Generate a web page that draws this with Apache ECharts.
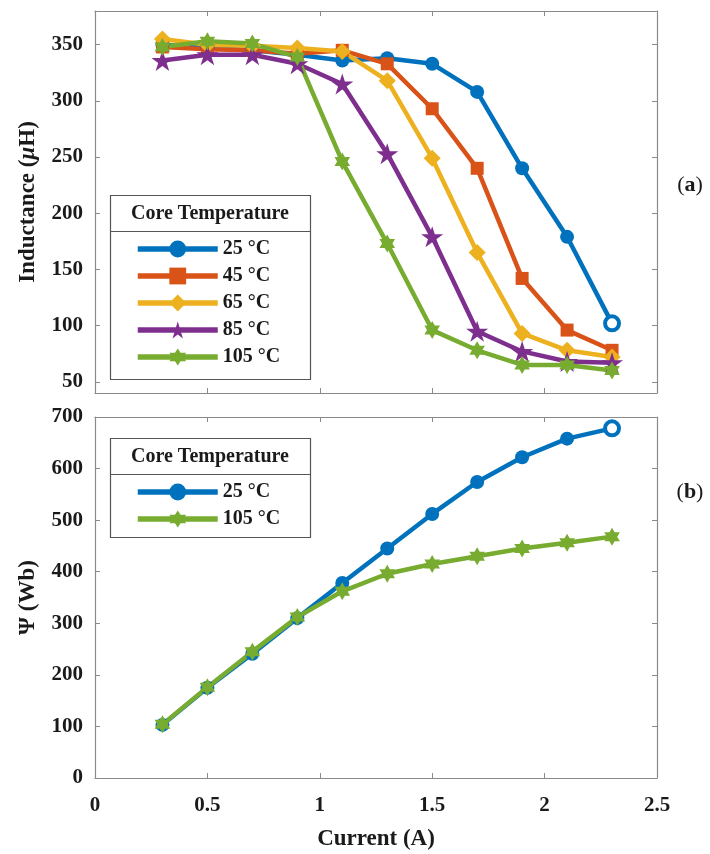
<!DOCTYPE html>
<html>
<head>
<meta charset="utf-8">
<script src="https://cdn.jsdelivr.net/npm/echarts@6/dist/echarts.min.js"></script>
<style>
  html, body { margin: 0; padding: 0; background: #fff; }
  #chart { width: 710px; height: 854px; }
</style>
</head>
<body>
<div id="chart"></div>
<script>
// x values (A)
const currents = [0.3, 0.5, 0.7, 0.9, 1.1, 1.3, 1.5, 1.7, 1.9, 2.1, 2.3]

// (a) inductance, uH
const ind25 = [350, 347, 345, 341, 336, 338, 333, 308, 240, 179, 102]
const ind45 = [348, 346, 345, 342, 345, 333, 293, 240, 142, 96, 78]
const ind65 = [355, 350, 349, 347, 344, 318, 249, 165, 93, 78, 72]
const ind85 = [336, 341, 341, 333, 315, 253, 179, 95, 77, 68, 67]
const ind105 = [348, 353, 351, 339, 246, 173, 96, 78, 65, 65, 60]

// (b) flux linkage, Wb
const psi25 = [103, 175, 241, 310, 378, 445, 512, 574, 622, 658, 678]
const psi105 = [104, 176, 245, 312, 362, 396, 415, 430, 445, 456, 468]

const indTicks = [50, 100, 150, 200, 250, 300, 350]
const tempNamesA = ['25 °C', '45 °C', '65 °C', '85 °C', '105 °C']
const tempNamesB = ['25 °C', '105 °C']

const FONT = '"Liberation Serif", "Times New Roman", serif'
const FRAME = '#8a8a8a'
const colors = ['#0072BD', '#D95319', '#EDB120', '#7E2F8E', '#77AC30']

const pentagram = 'path://M0,-10L2.245,-3.09L9.511,-3.09L3.633,1.18L5.878,8.09L0,3.82L-5.878,8.09L-3.633,1.18L-9.511,-3.09L-2.245,-3.09Z'
const hexagram = 'path://M0,-10L2.887,-5L8.66,-5L5.77,0L8.66,5L2.887,5L0,10L-2.887,5L-8.66,5L-5.77,0L-8.66,-5L-2.887,-5Z'

function pairs(ys, hollowLast, color) {
	return ys.map((y, i) => {
		if (hollowLast && i === ys.length - 1) {
			return { value: [currents[i], y], itemStyle: { color: '#fff', borderColor: color, borderWidth: 4 } }
		}
		return [currents[i], y]
	})
}

function lineSeries(name, ys, idx, grid, symbol, size, hollowLast) {
	return {
		name: name,
		type: 'line',
		xAxisIndex: grid * 2,
		yAxisIndex: grid * 2,
		data: pairs(ys, hollowLast, colors[idx]),
		symbol: symbol,
		symbolSize: size,
		symbolKeepAspect: true,
		showAllSymbol: true,
		color: colors[idx],
		lineStyle: { width: 4.5, color: colors[idx] },
		itemStyle: { color: colors[idx] },
		emphasis: { disabled: true },
		animation: false
	}
}

const tickLabel = { fontFamily: FONT, fontWeight: 'bold', fontSize: 21, color: '#1a1a1a' }

function xAxisPair(grid, withLabels) {
	const base = {
		type: 'value', gridIndex: grid, min: 0, max: 2.5, interval: 0.5,
		axisLine: { show: true, onZero: false, lineStyle: { color: FRAME, width: 1.2 } },
		axisTick: { show: true, inside: true, length: 5, lineStyle: { color: FRAME } },
		splitLine: { show: false }
	}
	const bottom = Object.assign({}, base, {
		position: 'bottom',
		axisLabel: withLabels ? Object.assign({ margin: 17 }, tickLabel) : { show: false }
	})
	if (withLabels) {
		bottom.name = 'Current (A)'
		bottom.nameLocation = 'middle'
		bottom.nameGap = 50
		bottom.nameTextStyle = { fontFamily: FONT, fontWeight: 'bold', fontSize: 23, color: '#1a1a1a' }
	}
	const top = Object.assign({}, base, { position: 'top', axisLabel: { show: false } })
	return [bottom, top]
}

function yAxisPair(grid, range, name, nameRich) {
	const base = {
		type: 'value', gridIndex: grid, min: range.min, max: range.max,
		axisLine: { show: true, onZero: false, lineStyle: { color: FRAME, width: 1.2 } },
		axisTick: { show: true, inside: true, length: 5, lineStyle: { color: FRAME } },
		splitLine: { show: false }
	}
	if (range.interval) base.interval = range.interval
	if (range.ticks) base.axisTick.customValues = range.ticks
	const left = Object.assign({}, base, {
		position: 'left',
		axisLabel: Object.assign({ margin: 12 }, tickLabel),
		name: name,
		nameLocation: 'middle',
		nameGap: 55,
		nameRotate: 90,
		nameTextStyle: { fontFamily: FONT, fontWeight: 'bold', fontSize: 23, color: '#1a1a1a', rich: nameRich || {} }
	})
	if (range.ticks) left.axisLabel.customValues = range.ticks
	const right = Object.assign({}, base, { position: 'right', axisLabel: { show: false } })
	return [left, right]
}

function legendBox(top, height) {
	return [
		{ type: 'rect', z: 3, shape: { x: 110.5, y: top + 0.5, width: 200, height: height }, style: { fill: '#fff', stroke: '#555', lineWidth: 1.2 } },
		{ type: 'line', z: 3, shape: { x1: 110.5, y1: top + 36.5, x2: 310.5, y2: top + 36.5 }, style: { stroke: '#555', lineWidth: 1.2 } },
		{ type: 'text', z: 5, x: 210, y: top + 19, style: { text: 'Core Temperature', font: 'bold 20px ' + FONT, fill: '#1a1a1a', align: 'center', verticalAlign: 'middle' } }
	]
}

function panelTag(letter, y) {
	return {
		type: 'text', z: 5, x: 690, y: y,
		style: {
			text: '({b|' + letter + '})',
			font: '22px ' + FONT, fill: '#1a1a1a', align: 'center', verticalAlign: 'middle',
			rich: { b: { fontFamily: FONT, fontWeight: 'bold', fontSize: 22, fill: '#1a1a1a' } }
		}
	}
}

const legendText = { fontFamily: FONT, fontWeight: 'bold', fontSize: 20, color: '#1a1a1a', lineHeight: 20 }
const legendCommon = {
	orient: 'vertical', left: 135, padding: 0, itemWidth: 80, itemHeight: 21, itemGap: 7,
	textStyle: legendText, lineStyle: { width: 5.5 }, selectedMode: false, z: 6
}

const option = {
	backgroundColor: '#fff',
	animation: false,
	grid: [
		{ left: 95, top: 11, width: 562, height: 382 },
		{ left: 95, top: 417, width: 562, height: 361 }
	],
	xAxis: [...xAxisPair(0, false), ...xAxisPair(1, true)],
	yAxis: [
		...yAxisPair(0, { min: 40, max: 380, ticks: indTicks }, 'Inductance ({i|μ}H)', {
			i: { fontFamily: FONT, fontStyle: 'italic', fontWeight: 'bold', fontSize: 23, color: '#1a1a1a' }
		}),
		...yAxisPair(1, { min: 0, max: 700, interval: 100 }, 'Ψ (Wb)')
	],
	legend: [
		Object.assign({ data: tempNamesA, top: 239 }, legendCommon),
		Object.assign({ data: tempNamesB, top: 482 }, legendCommon)
	],
	graphic: [...legendBox(195, 184), ...legendBox(438, 99), panelTag('a', 185), panelTag('b', 492)],
	series: [
		lineSeries('25 °C', ind25, 0, 0, 'circle', 14, true),
		lineSeries('45 °C', ind45, 1, 0, 'rect', 13, false),
		lineSeries('65 °C', ind65, 2, 0, 'diamond', 17, false),
		lineSeries('85 °C', ind85, 3, 0, pentagram, 22, false),
		lineSeries('105 °C', ind105, 4, 0, hexagram, 18, false),
		lineSeries('25 °C', psi25, 0, 1, 'circle', 14, true),
		lineSeries('105 °C', psi105, 4, 1, hexagram, 18, false)
	]
}

const chartDom = echarts.init(document.getElementById('chart'))
chartDom.setOption(option, true)
</script>
</body>
</html>
